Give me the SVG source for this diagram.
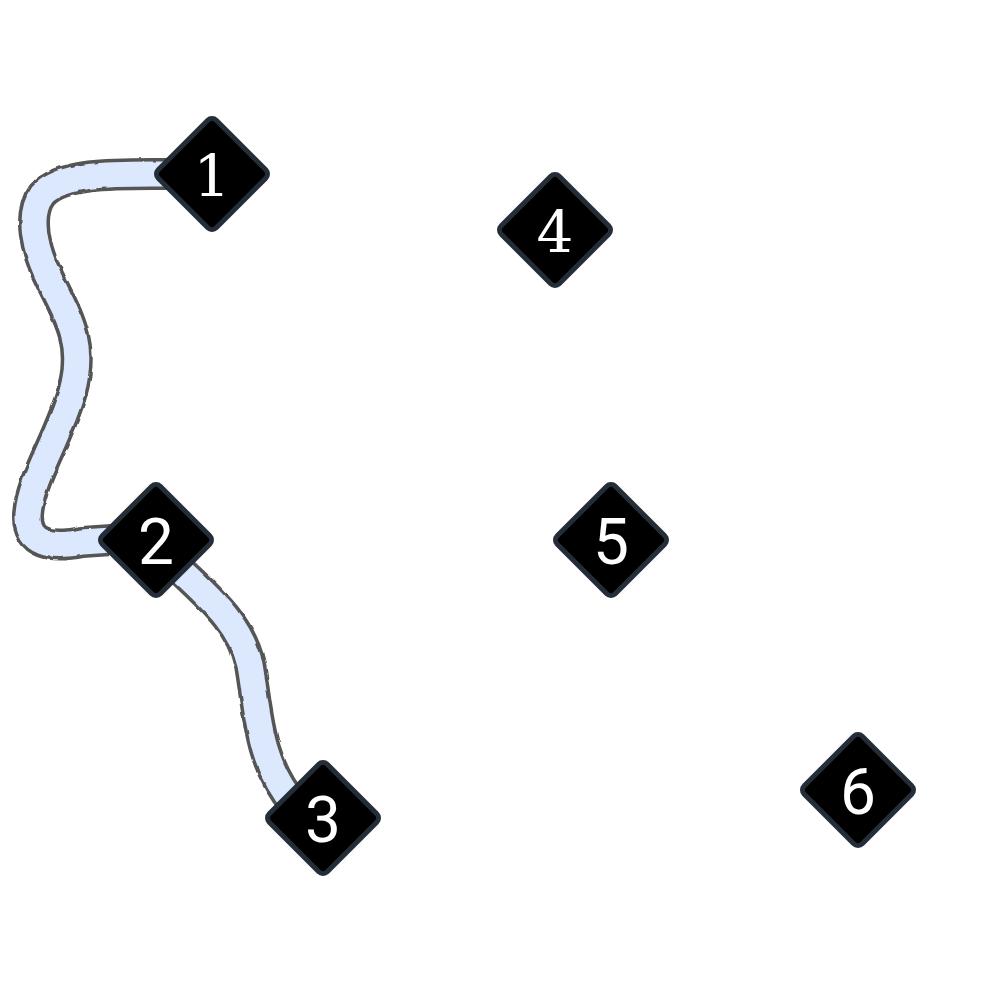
<svg xmlns="http://www.w3.org/2000/svg" width="1000" height="1000" viewBox="0 0 1000 1000">
<defs>
<filter id="rough" x="-10%" y="-10%" width="120%" height="120%">
<feTurbulence type="fractalNoise" baseFrequency="0.08" numOctaves="2" seed="3" result="n"/>
<feDisplacementMap in="SourceGraphic" in2="n" scale="3" xChannelSelector="R" yChannelSelector="G"/>
</filter>
<style>
.tube-out{fill:none;stroke:#555555;stroke-width:32;stroke-linecap:butt;stroke-linejoin:round}
.tube-in{fill:none;stroke:#dbe8fd;stroke-width:25;stroke-linecap:butt;stroke-linejoin:round}
.dia{fill:#000000;stroke:#252d39;stroke-width:5;stroke-linejoin:round}
.lbl{fill:#ffffff;font-size:64px;text-anchor:middle;dominant-baseline:central}
.sans{font-family:Roboto,"Liberation Sans",sans-serif}
.serif{font-family:"DejaVu Serif","Liberation Serif",serif;font-size:58px}
</style>
</defs>
<rect width="1000" height="1000" fill="#ffffff"/>
<g id="connectors" filter="url(#rough)">
<path class="tube-out" d="M 168 174 C 120 174, 62 172, 42 195 C 27 215, 35 250, 50 280 C 70 320, 85 345, 72 392 C 58 440, 30 480, 28 515 C 27 545, 52 548, 82 542 L 112 540"/>
<path class="tube-in" d="M 168 174 C 120 174, 62 172, 42 195 C 27 215, 35 250, 50 280 C 70 320, 85 345, 72 392 C 58 440, 30 480, 28 515 C 27 545, 52 548, 82 542 L 112 540"/>
<path class="tube-out" d="M 172 562 C 202 592, 240 620, 250 665 C 258 710, 258 762, 294 804"/>
<path class="tube-in" d="M 172 562 C 202 592, 240 620, 250 665 C 258 710, 258 762, 294 804"/>
</g>
<g id="node1"><rect class="dia" x="-41" y="-41" width="82" height="82" rx="6" transform="translate(212,174) rotate(45)"/><text class="lbl serif" x="212" y="176">1</text></g>
<g id="node2"><rect class="dia" x="-41" y="-41" width="82" height="82" rx="6" transform="translate(156,540) rotate(45)"/><text class="lbl sans" x="156" y="542">2</text></g>
<g id="node3"><rect class="dia" x="-41" y="-41" width="82" height="82" rx="6" transform="translate(323,818) rotate(45)"/><text class="lbl sans" x="323" y="820">3</text></g>
<g id="node4"><rect class="dia" x="-41" y="-41" width="82" height="82" rx="6" transform="translate(555,230) rotate(45)"/><text class="lbl serif" x="555" y="232">4</text></g>
<g id="node5"><rect class="dia" x="-41" y="-41" width="82" height="82" rx="6" transform="translate(611,540) rotate(45)"/><text class="lbl sans" x="611" y="542">5</text></g>
<g id="node6"><rect class="dia" x="-41" y="-41" width="82" height="82" rx="6" transform="translate(858,790) rotate(45)"/><text class="lbl sans" x="858" y="792">6</text></g>
</svg>
